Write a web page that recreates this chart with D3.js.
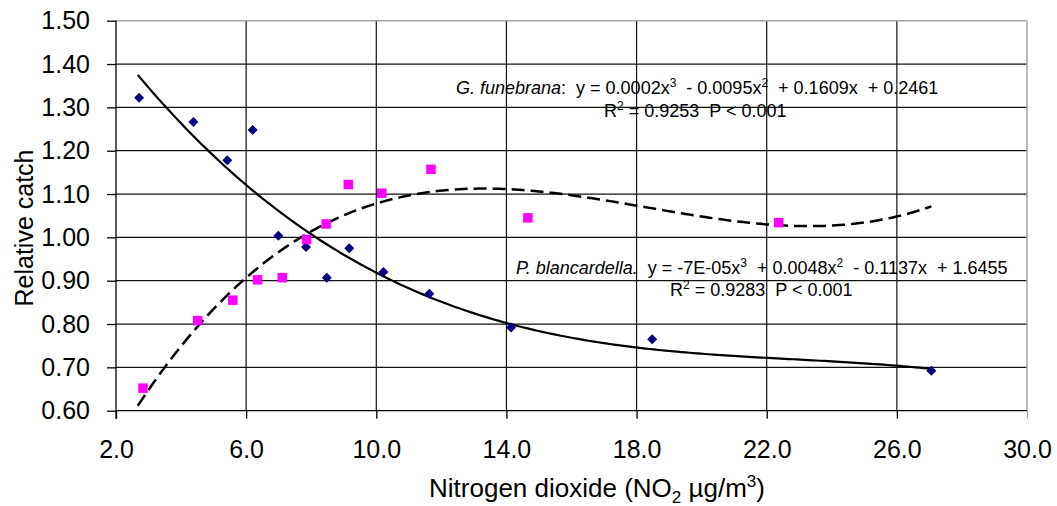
<!DOCTYPE html>
<html><head><meta charset="utf-8">
<script src="https://cdn.jsdelivr.net/npm/d3@7"></script>
<style>body{margin:0;background:#fff}svg{display:block}</style></head>
<body><svg id="c" width="1057" height="506"></svg>
<script>
// ---- data ----
const blancX = [2.71, 4.38, 5.42, 6.20, 6.99, 7.84, 8.48, 9.17, 10.22, 11.63, 14.14, 18.48, 27.06];
const blancY = [1.322, 1.266, 1.178, 1.248, 1.004, 0.978, 0.907, 0.975, 0.920, 0.870, 0.792, 0.765, 0.692];
const funebX = [2.83, 4.51, 5.59, 6.35, 7.11, 7.86, 8.46, 9.14, 10.17, 11.68, 14.66, 22.37];
const funebY = [0.652, 0.808, 0.855, 0.902, 0.907, 0.995, 1.031, 1.122, 1.102, 1.157, 1.045, 1.034];
// cubic trend coefficients [x^3, x^2, x, 1]
const blancCoef = [-0.00007, 0.0048, -0.1137, 1.6455];
const funebCoef = [0.000173, -0.0095, 0.1609, 0.2461];
const trendRange = [2.67, 27.06];
const xTicks = [2, 6, 10, 14, 18, 22, 26, 30];
const yTicks = [0.6, 0.7, 0.8, 0.9, 1.0, 1.1, 1.2, 1.3, 1.4, 1.5];

const svg = d3.select("#c");
const FONT = "'Liberation Sans', Arial, sans-serif";
const L = 116, R = 1027, T = 20.7, B = 410.7;
const x = d3.scaleLinear().domain([2, 30]).range([L, R]);
const y = d3.scaleLinear().domain([0.6, 1.5]).range([B, T]);

// gridlines
const g = svg.append("g");
g.selectAll(".hg").data(yTicks.slice(1, -1)).join("line")
  .attr("x1", L).attr("x2", R).attr("y1", d => y(d)).attr("y2", d => y(d))
  .attr("stroke", "#111").attr("stroke-width", 1.2);
g.selectAll(".vg").data(xTicks.slice(1, -1)).join("line")
  .attr("y1", T).attr("y2", B).attr("x1", d => x(d)).attr("x2", d => x(d))
  .attr("stroke", "#111").attr("stroke-width", 1.2);
// gray frame top/right
g.append("line").attr("x1", L).attr("x2", R).attr("y1", T).attr("y2", T).attr("stroke", "#a6a6a6").attr("stroke-width", 1.5);
g.append("line").attr("x1", R).attr("x2", R).attr("y1", T).attr("y2", B).attr("stroke", "#a6a6a6").attr("stroke-width", 1.5);

// axes
const xAxis = d3.axisBottom(x).tickValues(xTicks).tickSize(8).tickFormat(d3.format(".1f"));
const yAxis = d3.axisLeft(y).tickValues(yTicks).tickSize(9).tickFormat(d3.format(".2f"));
const xa = svg.append("g").attr("transform", `translate(0,${B})`).call(xAxis);
const ya = svg.append("g").attr("transform", `translate(${L},0)`).call(yAxis);
[xa, ya].forEach(a => {
  a.select(".domain").attr("stroke", "#000").attr("stroke-width", 1.3);
  a.selectAll(".tick line").attr("stroke", "#000").attr("stroke-width", 1.3);
  a.selectAll("text").attr("font-family", FONT).attr("font-size", 25).attr("fill", "#000");
});
xa.select(".domain").attr("d", `M${L},0H${R}`);
ya.select(".domain").attr("d", `M0,${T}V${B + 8}`);
xa.selectAll(".tick text").attr("y", 47).attr("dy", 0);
ya.selectAll(".tick text").attr("x", -26);
xa.selectAll(".tick").filter(d => d === 30).select("line").attr("stroke", "#a6a6a6");

// trend lines
const line = d3.line().x(d => x(d[0])).y(d => y(d[1]));
const poly = c => t => ((c[0] * t + c[1]) * t + c[2]) * t + c[3];
const samples = d3.range(0, 201).map(i => trendRange[0] + (trendRange[1] - trendRange[0]) * i / 200);
svg.append("path").datum(samples.map(t => [t, poly(blancCoef)(t)])).attr("d", line)
  .attr("fill", "none").attr("stroke", "#000").attr("stroke-width", 2.2);
svg.append("path").datum(samples.map(t => [t, poly(funebCoef)(t)])).attr("d", line)
  .attr("fill", "none").attr("stroke", "#000").attr("stroke-width", 2.5).attr("stroke-dasharray", "13,6");

// markers
const diamond = { draw(ctx, size) { const r = Math.sqrt(size) / 2; ctx.moveTo(0, -r); ctx.lineTo(r, 0); ctx.lineTo(0, r); ctx.lineTo(-r, 0); ctx.closePath(); } };
svg.append("g").selectAll("path").data(d3.zip(blancX, blancY)).join("path")
  .attr("transform", d => `translate(${x(d[0])},${y(d[1])})`)
  .attr("d", d3.symbol().type(diamond).size(100)).attr("fill", "#000080");
svg.append("g").selectAll("rect").data(d3.zip(funebX, funebY)).join("rect")
  .attr("x", d => x(d[0]) - 4.75).attr("y", d => y(d[1]) - 4.75)
  .attr("width", 9.5).attr("height", 9.5).attr("fill", "#ff00ff");

// axis titles
svg.append("text").attr("transform", "translate(33,228) rotate(-90)").attr("text-anchor", "middle")
  .attr("font-family", FONT).attr("font-size", 25).text("Relative catch");
const xt = svg.append("text").attr("x", 597).attr("y", 497).attr("text-anchor", "middle")
  .attr("font-family", FONT).attr("font-size", 26);
xt.append("tspan").text("Nitrogen dioxide (NO");
xt.append("tspan").attr("font-size", 17).attr("dy", 6).text("2");
xt.append("tspan").attr("dy", -6).text(" µg/m");
xt.append("tspan").attr("font-size", 17).attr("dy", -10).text("3");
xt.append("tspan").attr("dy", 10).text(")");

// equations
function eq(xp, yp, parts) {
  const t = svg.append("text").attr("x", xp).attr("y", yp).attr("font-family", FONT).attr("font-size", 18).attr("xml:space", "preserve");
  parts.forEach(p => {
    const s = t.append("tspan").text(p.t);
    if (p.i) s.attr("font-style", "italic");
    if (p.sup) s.attr("font-size", 12).attr("dy", -7);
    if (p.back) s.attr("dy", 7);
  });
}
eq(456, 94, [{t: "G. funebrana", i: 1}, {t: ":  y = 0.0002x"}, {t: "3", sup: 1}, {t: "  - 0.0095x", back: 1}, {t: "2", sup: 1}, {t: "  + 0.1609x  + 0.2461", back: 1}]);
eq(604, 117, [{t: "R"}, {t: "2", sup: 1}, {t: " = 0.9253  P < 0.001", back: 1}]);
eq(516, 274, [{t: "P. blancardella.", i: 1}, {t: "  y = -7E-05x"}, {t: "3", sup: 1}, {t: "  + 0.0048x", back: 1}, {t: "2", sup: 1}, {t: "  - 0.1137x  + 1.6455", back: 1}]);
eq(670, 296, [{t: "R"}, {t: "2", sup: 1}, {t: " = 0.9283  P < 0.001", back: 1}]);
</script></body></html>
